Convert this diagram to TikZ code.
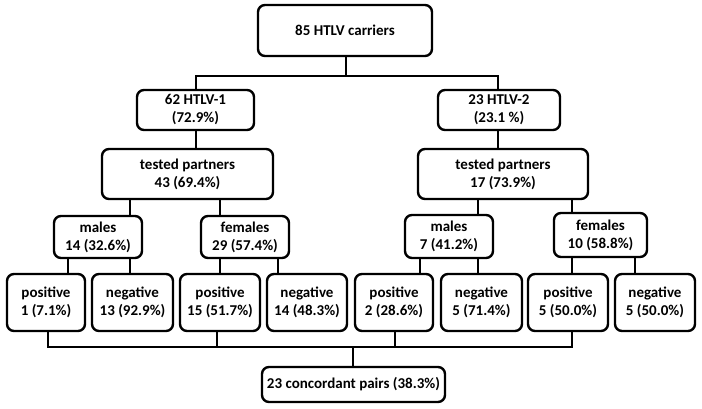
\documentclass[tikz,border=0pt]{standalone}
\usepackage{fontspec}
\setmainfont{Carlito}
\begin{document}
\begin{tikzpicture}[x=1pt,y=-1pt,
  bx/.style={draw, line width=2.4pt, rounded corners=7pt, align=center, inner sep=0pt,
    font=\bfseries\fontsize{15}{18}\selectfont},
  ln/.style={line width=2.4pt}]
\useasboundingbox (0,0) rectangle (702,408);
% boxes
\node[bx, minimum width=174pt, minimum height=51pt] (top) at (345,30.5) {85 HTLV carriers};
\node[bx, minimum width=117pt, minimum height=40pt] (h1) at (195.5,110) {62 HTLV-1\\(72.9\%)};
\node[bx, minimum width=122pt, minimum height=40pt] (h2) at (499,110) {23 HTLV-2\\(23.1 \%)};
\node[bx, minimum width=171pt, minimum height=50pt] (tp1) at (187.5,174) {tested partners\\43 (69.4\%)};
\node[bx, minimum width=170pt, minimum height=50pt] (tp2) at (503,174) {tested partners\\17 (73.9\%)};
\node[bx, minimum width=88pt, minimum height=42pt] (m1) at (98,237) {males\\14 (32.6\%)};
\node[bx, minimum width=88pt, minimum height=42pt] (f1) at (245,237) {females\\29 (57.4\%)};
\node[bx, minimum width=88pt, minimum height=43pt] (m2) at (449,236.5) {males\\7 (41.2\%)};
\node[bx, minimum width=93pt, minimum height=44pt] (f2) at (600.5,235) {females\\10 (58.8\%)};
\node[bx, minimum width=78pt, minimum height=57pt] (p1) at (46,302.5) {positive\\1 (7.1\%)};
\node[bx, minimum width=81pt, minimum height=57pt] (n1) at (132.5,302.5) {negative\\13 (92.9\%)};
\node[bx, minimum width=80pt, minimum height=57pt] (p2) at (220,302.5) {positive\\15 (51.7\%)};
\node[bx, minimum width=80pt, minimum height=57pt] (n2) at (307,302.5) {negative\\14 (48.3\%)};
\node[bx, minimum width=78pt, minimum height=57pt] (p3) at (394,302.5) {positive\\2 (28.6\%)};
\node[bx, minimum width=81pt, minimum height=57pt] (n3) at (481.5,302.5) {negative\\5 (71.4\%)};
\node[bx, minimum width=80pt, minimum height=57pt] (p4) at (568,302.5) {positive\\5 (50.0\%)};
\node[bx, minimum width=80pt, minimum height=57pt] (n4) at (655,302.5) {negative\\5 (50.0\%)};
\node[bx, minimum width=183pt, minimum height=35pt] (conc) at (353.5,384.5) {23 concordant pairs (38.3\%)};
% connectors
\coordinate (j0) at (346,76);
\draw[ln] (top.south -| j0) -- (j0);
\draw[ln] (h1.north -| 196,0) |- (j0) -| (h2.north -| 498,0);
\draw[ln] (h1.south -| 196,0) -- (tp1.north -| 196,0);
\draw[ln] (h2.south -| 498,0) -- (tp2.north -| 498,0);
\draw[ln] (tp1.south -| 130,0) -- (m1.north -| 130,0);
\draw[ln] (tp1.south -| 220,0) -- (f1.north -| 220,0);
\draw[ln] (tp2.south -| 478,0) -- (m2.north -| 478,0);
\draw[ln] (tp2.south -| 572,0) -- (f2.north -| 572,0);
\draw[ln] (m1.south -| 68,0) -- (p1.north -| 68,0);
\draw[ln] (m1.south -| 130,0) -- (n1.north -| 130,0);
\draw[ln] (f1.south -| 220,0) -- (p2.north -| 220,0);
\draw[ln] (f1.south -| 278,0) -- (n2.north -| 278,0);
\draw[ln] (m2.south -| 420,0) -- (p3.north -| 420,0);
\draw[ln] (m2.south -| 478,0) -- (n3.north -| 478,0);
\draw[ln] (f2.south -| 572,0) -- (p4.north -| 572,0);
\draw[ln] (f2.south -| 635,0) -- (n4.north -| 635,0);
\coordinate (b0) at (48,347);
\coordinate (b1) at (572,347);
\draw[ln] (p1.south -| b0) -- (b0) -- (b1) -- (p4.south -| b1);
\draw[ln] (p2.south -| 217,0) -- (217,347);
\draw[ln] (p3.south -| 395,0) -- (395,347);
\draw[ln] (353,347) -- (conc.north -| 353,0);
\end{tikzpicture}
\end{document}
